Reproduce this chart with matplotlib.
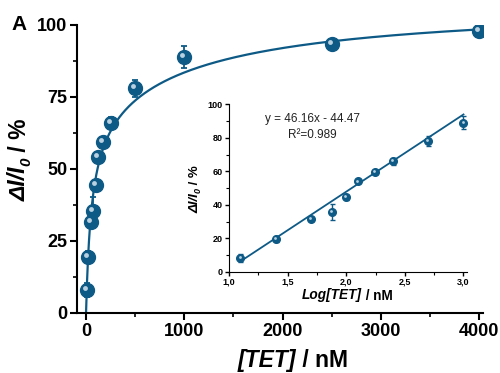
import matplotlib
matplotlib.use('Agg')
import matplotlib.pyplot as plt
import numpy as np
from matplotlib.ticker import MultipleLocator, FuncFormatter
from matplotlib.transforms import offset_copy

plt.rcParams['font.family'] = ['Liberation Sans', 'DejaVu Sans']
plt.rcParams['font.weight'] = 'bold'

# data
conc = [12.5, 25, 50, 75, 100, 125, 175, 250, 500, 1000, 2500, 4000]
response = [8, 19.5, 31.5, 35.5, 44.5, 54, 59.5, 66, 78, 89, 93.5, 98]
response_err = [2.5, 2, 1, 4.7, 1.5, 1, 1, 2, 3, 3.8, 0.8, 0.8]

# linear range (inset)
log_conc = [1.097, 1.398, 1.699, 1.875, 2.0, 2.097, 2.243, 2.398, 2.699, 3.0]
lin_response = response[:10]
lin_err = response_err[:10]
slope, intercept = 46.16, -44.47

# two-site binding curve used for the main fit line
A1, K1, A2, K2 = 68, 55, 40, 1100

blue = '#0e5a86'
shine = '#b8d0e0'
W, H = 500, 373

fig = plt.figure(figsize=(5.0, 3.73), dpi=100)
renderer = fig.canvas.get_renderer()


def label_pieces(pieces, x, y, rotation=0):
    # pieces: (text, size, italic, drop in px); x, y in px from top-left
    px, py = x, H - y
    for text, size, italic, drop in pieces:
        if rotation == 0:
            tx, ty = px, py - drop
        else:
            tx, ty = px + drop, py
        t = fig.text(tx / W, ty / H, text, fontsize=size, fontweight='bold',
                     style='italic' if italic else 'normal', rotation=rotation,
                     rotation_mode='anchor', ha='left', va='baseline')
        bb = t.get_window_extent(renderer=renderer)
        if rotation == 0:
            px = bb.x1
        else:
            py = bb.y1


ax = fig.add_axes([0.154, 0.161, 0.812, 0.772])

xc = np.linspace(0, 4000, 800)
yc = A1 * xc / (K1 + xc) + A2 * xc / (K2 + xc)
ax.plot(xc, yc, color=blue, lw=1.6, zorder=2)
ax.errorbar(conc, response, yerr=response_err, fmt='o', color=blue, ms=10,
            ecolor=blue, elinewidth=1.3, capsize=2.5, capthick=1.3, zorder=3)
hl = offset_copy(ax.transData, fig=fig, x=-1.5, y=1.5, units='points')
ax.plot(conc, response, 'o', color=shine, ms=3.5, mec='none', transform=hl, zorder=4)

ax.set_xlim(-92, 4040)
ax.set_ylim(0, 100)
ax.spines['top'].set_visible(False)
ax.spines['right'].set_visible(False)
for s in ['left', 'bottom']:
    ax.spines[s].set_linewidth(1.5)
ax.xaxis.set_major_locator(MultipleLocator(1000))
ax.xaxis.set_minor_locator(MultipleLocator(500))
ax.yaxis.set_major_locator(MultipleLocator(25))
ax.yaxis.set_minor_locator(MultipleLocator(12.5))
ax.tick_params(which='major', length=5, width=1.5, labelsize=13, pad=2)
ax.tick_params(which='minor', length=3, width=1.2)
for lab in ax.get_xticklabels() + ax.get_yticklabels():
    lab.set_fontweight('bold')
fig.text(0.022, 0.935, 'A', fontsize=15, fontweight='bold', va='center')

# inset
ins = fig.add_axes([0.458, 0.2716, 0.476, 0.4484])
xl = np.array([log_conc[0], log_conc[-1]])
ins.plot(xl, slope * xl + intercept, color=blue, lw=1.3, zorder=2)
ins.errorbar(log_conc, lin_response, yerr=lin_err, fmt='o', color=blue, ms=5.5,
             ecolor=blue, elinewidth=1.0, capsize=1.8, capthick=1.0, zorder=3)
hl2 = offset_copy(ins.transData, fig=fig, x=-0.6, y=0.6, units='points')
ins.plot(log_conc, lin_response, 'o', color=shine, ms=2, mec='none', transform=hl2, zorder=4)
ins.set_xlim(1.0, 3.03)
ins.set_ylim(0, 100)
ins.spines['top'].set_visible(False)
ins.spines['right'].set_visible(False)
ins.xaxis.set_major_locator(MultipleLocator(0.5))
ins.xaxis.set_minor_locator(MultipleLocator(0.25))
ins.yaxis.set_major_locator(MultipleLocator(20))
ins.yaxis.set_minor_locator(MultipleLocator(10))
ins.xaxis.set_major_formatter(FuncFormatter(lambda v, p: f'{v:.1f}'.replace('.', ',')))
ins.tick_params(which='major', length=3, width=1.0, labelsize=6.5, pad=1.5)
ins.tick_params(which='minor', length=2, width=0.8)
for lab in ins.get_xticklabels() + ins.get_yticklabels():
    lab.set_fontweight('bold')
ins.text(0.35, 0.915, 'y = 46.16x - 44.47', transform=ins.transAxes, fontsize=8.5,
         fontweight='normal', ha='center', va='center', color='#222222')
ins.text(0.35, 0.82, 'R²=0.989', transform=ins.transAxes, fontsize=8.5,
         fontweight='normal', ha='center', va='center', color='#222222')

# axis titles built from pieces (italic quantity + upright unit)
label_pieces([('[TET]', 16.5, True, 0), (' / nM', 16.5, False, 0)], 238, 367)
label_pieces([('ΔI/I', 16.5, True, 0), ('0', 11, True, 4), (' / %', 16.5, False, 0)],
             26, 201, rotation=90)
label_pieces([('Log[TET]', 9.8, True, 0), (' / nM', 9.8, False, 0)], 302, 299.5)
label_pieces([('ΔI/I', 9.5, True, 0), ('0', 6.5, True, 2.5), (' / %', 9.5, False, 0)],
             198, 213, rotation=90)

fig.savefig('out.png', dpi=100)
